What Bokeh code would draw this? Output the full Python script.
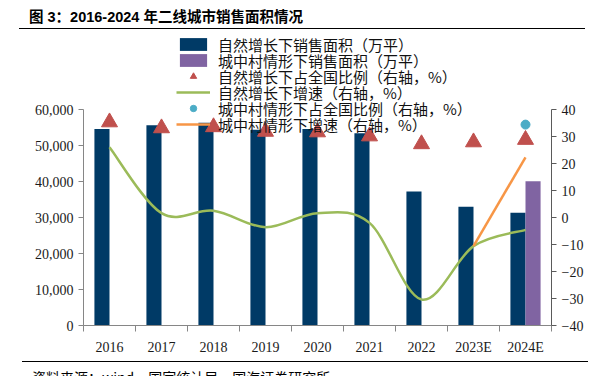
import numpy as np
from bokeh.plotting import figure
from bokeh.models import (Range1d, LinearAxis, FixedTicker, NumeralTickFormatter,
                          Legend, LegendItem, Div)
from bokeh.layouts import column
from bokeh.embed import file_html
from bokeh.resources import INLINE

# ---------------- data ----------------
categories = ["2016", "2017", "2018", "2019", "2020", "2021", "2022", "2023E", "2024E"]
natural_area = [54600, 55600, 56300, 54400, 54600, 53400, 37200, 33000, 31300]      # 万平
urban_village_area = [None, None, None, None, None, None, None, None, 40100]         # 万平
natural_share = [35.3, 33.1, 33.5, 31.8, 31.6, 30.1, 27.2, 27.9, 28.8]               # %
natural_growth = [26.0, 1.6, 2.5, -3.6, 1.6, -2.0, -30.4, -10.6, -4.6]               # %
urban_village_share = [None, None, None, None, None, None, None, None, 34.4]          # %
urban_village_growth = [None, None, None, None, None, None, None, -10.6, 22.3]       # %

left_ticks = [0, 10000, 20000, 30000, 40000, 50000, 60000]
right_ticks = [-40, -30, -20, -10, 0, 10, 20, 30, 40]

title_text = "图 3：2016-2024 年二线城市销售面积情况"
source_text = "资料来源：wind，国家统计局，国海证券研究所"
labels = ["自然增长下销售面积（万平）", "城中村情形下销售面积（万平）",
          "自然增长下占全国比例（右轴，%）", "自然增长下增速（右轴，%）",
          "城中村情形下占全国比例（右轴，%）", "城中村情形下增速（右轴，%）"]

NAVY = "#003A66"
PURPLE = "#8064A2"
RED = "#C0504D"
GREEN = "#9BBB59"
CYAN = "#4BACC6"
ORANGE = "#F79646"

x = np.arange(len(categories), dtype=float)

# ---------------- figure ----------------
W = 593
FRAME_H = 289
AXIS_PX = 216  # pixels spanned by 0..60000 / -40..40
left_top = left_ticks[-1] * FRAME_H / AXIS_PX
right_top = right_ticks[0] + (right_ticks[-1] - right_ticks[0]) * FRAME_H / AXIS_PX

p = figure(width=W, height=326, output_backend="svg", toolbar_location=None,
           x_range=Range1d(-0.5, len(categories) - 0.5),
           y_range=Range1d(0, left_top),
           min_border_left=83, min_border_right=42, min_border_top=2, min_border_bottom=35)
p.title = None
p.outline_line_color = None
p.xgrid.visible = False
p.ygrid.visible = False
p.background_fill_color = "white"
p.border_fill_color = "white"
p.extra_y_ranges = {"right": Range1d(right_ticks[0], right_top)}

# x axis
xa = p.xaxis[0]
xa.ticker = FixedTicker(ticks=list(x), minor_ticks=list(np.arange(-0.5, len(categories), 1.0)))
xa.major_label_overrides = {float(i): c for i, c in enumerate(categories)}
xa.major_label_overrides.update({int(i): c for i, c in enumerate(categories)})
xa.major_tick_line_color = None
xa.minor_tick_line_color = "#868686"
xa.minor_tick_out = 6
xa.minor_tick_in = 0
xa.axis_line_color = "#868686"
xa.major_label_standoff = 8

# left axis
ya = p.yaxis[0]
ya.ticker = FixedTicker(ticks=left_ticks)
ya.formatter = NumeralTickFormatter(format="0,0")
ya.bounds = (left_ticks[0], left_ticks[-1])

# right axis
ra = LinearAxis(y_range_name="right", ticker=FixedTicker(ticks=right_ticks))
ra.bounds = (right_ticks[0], right_ticks[-1])
p.add_layout(ra, "right")

for ax in (xa, ya, ra):
    ax.major_label_text_font = "Liberation Serif"
    ax.major_label_text_font_size = "14px"
    ax.major_label_text_color = "#1a1a1a"
for ax in (ya, ra):
    ax.axis_line_color = "#868686"
    ax.major_tick_line_color = "#868686"
    ax.major_tick_out = 5
    ax.major_tick_in = 0
    ax.minor_tick_line_color = None
    ax.major_label_standoff = 5
ra.axis_line_color = "#5a5a5a"
ra.major_tick_line_color = "#5a5a5a"

# ---------------- glyphs ----------------
BW = 0.29
r_nat = p.vbar(x=x - BW / 2, top=natural_area, width=BW, bottom=0,
               fill_color=NAVY, line_color=None)

uv_idx = [i for i, v in enumerate(urban_village_area) if v is not None]
r_uv = p.vbar(x=[x[i] + BW / 2 for i in uv_idx], top=[urban_village_area[i] for i in uv_idx],
              width=BW, bottom=0, fill_color=PURPLE, line_color=None)


def smooth_segments(xs, ys):
    n = len(xs)
    out = {k: [] for k in ("x0", "y0", "x1", "y1", "cx0", "cy0", "cx1", "cy1")}
    for i in range(n - 1):
        im = max(i - 1, 0)
        ip = min(i + 2, n - 1)
        out["x0"].append(xs[i]); out["y0"].append(ys[i])
        out["x1"].append(xs[i + 1]); out["y1"].append(ys[i + 1])
        out["cx0"].append(xs[i] + (xs[i + 1] - xs[im]) / 6)
        out["cy0"].append(ys[i] + (ys[i + 1] - ys[im]) / 6)
        out["cx1"].append(xs[i + 1] - (xs[ip] - xs[i]) / 6)
        out["cy1"].append(ys[i + 1] - (ys[ip] - ys[i]) / 6)
    return out


seg = smooth_segments(list(x), natural_growth)
r_green = p.bezier(**seg, line_color=GREEN, line_width=2.5, y_range_name="right")

ug_idx = [i for i, v in enumerate(urban_village_growth) if v is not None]
r_orange = p.line([x[i] for i in ug_idx], [urban_village_growth[i] for i in ug_idx],
                  line_color=ORANGE, line_width=2.5, y_range_name="right")

r_tri = p.scatter(x, natural_share, marker="triangle", size=16, fill_color=RED,
                  line_color=RED, y_range_name="right")

us_idx = [i for i, v in enumerate(urban_village_share) if v is not None]
r_cyan = p.scatter([x[i] for i in us_idx], [urban_village_share[i] for i in us_idx],
                   marker="circle", size=9, fill_color=CYAN, line_color=CYAN,
                   y_range_name="right")

# legend: one row per Legend so that rows can sit closer than the font's line box
legend_renderers = [r_nat, r_uv, r_tri, r_green, r_cyan, r_orange]
row_centers = [281, 265, 249, 233, 217, 201]   # px above the frame bottom
ROW_H = 21
for lab, rend, cy in zip(labels, legend_renderers, row_centers):
    lg = Legend(items=[LegendItem(label=lab, renderers=[rend])],
                location=(93, cy - ROW_H / 2), orientation="vertical",
                background_fill_alpha=0, border_line_color=None,
                padding=0, margin=0, spacing=0,
                glyph_width=34, glyph_height=16, label_height=16, label_standoff=8,
                label_text_font="Noto Sans CJK SC", label_text_font_size="15px",
                label_text_color="#111111")
    p.add_layout(lg)

# ---------------- title / footer ----------------
title_div = Div(width=W, height=24, text=(
    '<div style="position:relative;margin-left:14px;width:566px;height:24px;'
    'box-sizing:border-box;border-bottom:1.5px solid #000;">'
    '<span style="position:absolute;left:10px;top:2px;white-space:nowrap;'
    "font-family:'Liberation Sans','Noto Sans CJK SC';font-weight:bold;font-size:14.5px;color:#000;\">"
    + title_text + '</span></div>'))

footer_div = Div(width=W, height=16, text=(
    '<div style="position:relative;margin-left:17px;margin-top:-4px;width:566px;height:20px;overflow:hidden;'
    'border-top:1.5px solid #000;box-sizing:border-box;">'
    '<span style="position:absolute;left:10px;top:5px;white-space:nowrap;'
    "font-family:'Noto Sans CJK SC';font-size:14px;color:#000;\">"
    + source_text + '</span></div>'))

layout = column(title_div, p, footer_div, spacing=0)

open("out.html", "w").write(file_html(layout, INLINE))
